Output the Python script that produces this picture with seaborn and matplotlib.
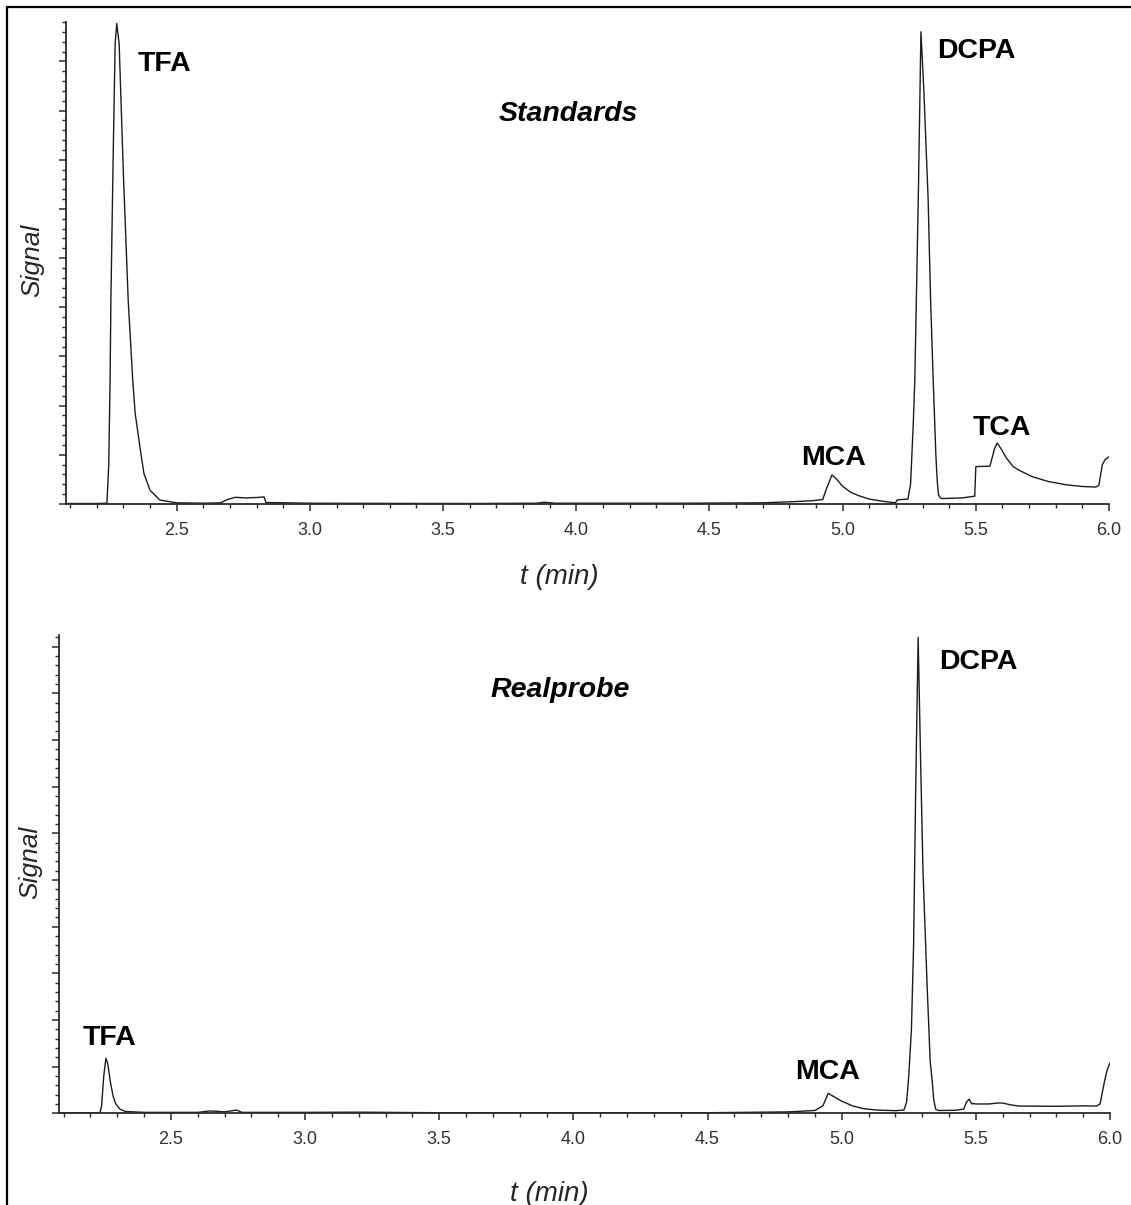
import matplotlib
matplotlib.use("Agg")
import matplotlib.pyplot as plt
from matplotlib.ticker import MultipleLocator, FormatStrFormatter
from matplotlib.lines import Line2D
import seaborn as sns

# Standards chromatogram: retention time (min) and detector signal (arbitrary units)
std_time = [2.085, 2.20, 2.238, 2.245, 2.25, 2.253, 2.262, 2.269, 2.275, 2.284,
            2.30, 2.318, 2.335, 2.344, 2.362, 2.377, 2.40, 2.437, 2.50, 2.60,
            2.665, 2.69, 2.72, 2.76, 2.80, 2.828, 2.835, 3.00, 3.30, 3.60,
            3.85, 3.88, 3.92, 4.40, 4.70, 4.80, 4.88, 4.925, 4.94, 4.96,
            4.975, 5.00, 5.03, 5.06, 5.10, 5.15, 5.198, 5.205, 5.245, 5.255,
            5.265, 5.271, 5.284, 5.294, 5.305, 5.321, 5.33, 5.34, 5.35, 5.355,
            5.36, 5.37, 5.45, 5.496, 5.50, 5.553, 5.57, 5.58, 5.595, 5.614,
            5.64, 5.665, 5.71, 5.77, 5.84, 5.90, 5.95, 5.962, 5.975, 5.985, 6.0]
std_signal = [0.05, 0.05, 0.08, 4.0, 12.6, 20.7, 36.0, 46.8, 48.85, 46.8,
              33.5, 20.7, 12.6, 9.25, 5.8, 3.1, 1.4, 0.4, 0.12, 0.08,
              0.12, 0.45, 0.68, 0.62, 0.66, 0.72, 0.15, 0.08, 0.06, 0.05,
              0.08, 0.18, 0.08, 0.08, 0.12, 0.22, 0.32, 0.45, 1.6, 2.95,
              2.6, 1.8, 1.2, 0.85, 0.5, 0.28, 0.12, 0.42, 0.5, 2.0,
              8.0, 12.6, 31.0, 48.0, 42.0, 31.0, 21.0, 12.6, 5.0, 2.4,
              0.9, 0.55, 0.62, 0.8, 3.8, 3.85, 5.6, 6.2, 5.6, 4.7,
              3.8, 3.4, 2.8, 2.3, 1.95, 1.78, 1.72, 1.9, 4.0, 4.5, 4.8]

# Real sample chromatogram
real_time = [2.084, 2.20, 2.236, 2.242, 2.25, 2.258, 2.265, 2.275, 2.285, 2.295,
             2.31, 2.33, 2.40, 2.60, 2.645, 2.67, 2.70, 2.745, 2.765, 3.00,
             3.20, 3.50, 4.50, 4.80, 4.90, 4.93, 4.95, 4.97, 5.00, 5.04,
             5.08, 5.13, 5.20, 5.232, 5.242, 5.25, 5.26, 5.268, 5.276, 5.285,
             5.294, 5.303, 5.318, 5.33, 5.337, 5.343, 5.35, 5.36, 5.42, 5.455,
             5.465, 5.475, 5.485, 5.49, 5.50, 5.55, 5.58, 5.60, 5.63, 5.66,
             5.80, 5.90, 5.95, 5.963, 5.98, 5.99, 6.0]
real_signal = [0.05, 0.05, 0.08, 0.8, 4.0, 5.9, 5.3, 3.3, 1.8, 1.0,
               0.45, 0.2, 0.1, 0.1, 0.25, 0.22, 0.15, 0.35, 0.1, 0.1,
               0.12, 0.06, 0.06, 0.15, 0.3, 0.8, 2.14, 1.8, 1.3, 0.8,
               0.5, 0.35, 0.28, 0.35, 1.2, 4.0, 9.0, 18.0, 35.0, 51.0,
               38.0, 26.0, 14.0, 5.5, 3.6, 1.5, 0.45, 0.3, 0.32, 0.45,
               1.2, 1.5, 1.0, 1.05, 1.0, 1.0, 1.1, 1.1, 0.9, 0.78,
               0.75, 0.8, 0.78, 1.0, 3.5, 4.7, 5.4]

# Peak annotations: name, time (left edge of label), signal (baseline of label)
std_labels = ["TFA", "DCPA", "MCA", "TCA"]
std_label_t = [2.355, 5.354, 4.846, 5.488]
std_label_y = [44.0, 45.3, 3.96, 7.01]
real_labels = ["DCPA", "TFA", "MCA"]
real_label_t = [5.362, 2.171, 4.826]
real_label_y = [47.6, 7.32, 3.68]

sns.set_style("ticks")
plt.rcParams["font.family"] = ["Liberation Sans", "DejaVu Sans"]

W, H = 1131, 1205
fig = plt.figure(figsize=(W / 100, H / 100), dpi=100)

def px_axes(left, right, bottom, top):
    return fig.add_axes([left / W, 1 - bottom / H, (right - left) / W, (bottom - top) / H])

ax_top = px_axes(66, 1109, 504, 22)
ax_bot = px_axes(59.3, 1110, 1113.3, 635)

line_color = "#1c1c1c"
axis_color = "#2a2a2a"

panels = [
    (ax_top, std_time, std_signal, (2.0845, 6.0), (0, 49.0),
     std_labels, std_label_t, std_label_y, "Standards", 3.971, 38.9),
    (ax_bot, real_time, real_signal, (2.0843, 6.0), (0, 51.25),
     real_labels, real_label_t, real_label_y, "Realprobe", 3.951, 44.6),
]

for ax, t, s, xl, yl, labs, lt, ly, title, tt, ty in panels:
    sns.lineplot(x=t, y=s, ax=ax, color=line_color, linewidth=1.0,
                 sort=False, estimator=None)
    ax.set_xlim(*xl)
    ax.set_ylim(*yl)
    ax.set_facecolor("white")
    for side in ("top", "right"):
        ax.spines[side].set_visible(False)
    for side in ("left", "bottom"):
        ax.spines[side].set_color(axis_color)
        ax.spines[side].set_linewidth(1.3)
    ax.xaxis.set_major_locator(MultipleLocator(0.5))
    ax.xaxis.set_minor_locator(MultipleLocator(0.1))
    ax.xaxis.set_major_formatter(FormatStrFormatter("%.1f"))
    ax.yaxis.set_major_locator(MultipleLocator(5))
    ax.yaxis.set_minor_locator(MultipleLocator(1))
    ax.set_yticklabels([])
    ax.tick_params(axis="both", which="major", direction="out", length=5,
                   width=1.1, color=axis_color)
    ax.tick_params(axis="both", which="minor", direction="out", length=2.8,
                   width=1.0, color=axis_color)
    ax.tick_params(axis="x", which="major", labelsize=13, labelcolor="#333333", pad=8)
    ax.set_xlabel("")
    ax.set_ylabel("")
    for name, x0, y0 in zip(labs, lt, ly):
        ax.text(x0, y0, name, fontsize=20.5, fontweight="bold", color="black",
                ha="left", va="baseline")
    ax.text(tt, ty, title, fontsize=20.5, fontweight="bold", fontstyle="italic",
            color="black", ha="center", va="baseline")

# Axis titles
fig.text(32 / W, 1 - 260 / H, "Signal", rotation=90, fontsize=19,
         fontstyle="italic", ha="center", va="center")
fig.text(30 / W, 1 - 862 / H, "Signal", rotation=90, fontsize=19,
         fontstyle="italic", ha="center", va="center")
fig.text(559 / W, 1 - 584 / H, "t (min)", fontsize=20, fontstyle="italic",
         ha="center", va="baseline")
fig.text(549 / W, 1 - 1201 / H, "t (min)", fontsize=20, fontstyle="italic",
         ha="center", va="baseline")

# Outer frame
fig.add_artist(Line2D([7 / W, 1.0], [1 - 7 / H, 1 - 7 / H], color="black",
                      linewidth=1.6, transform=fig.transFigure))
fig.add_artist(Line2D([7 / W, 7 / W], [0.0, 1 - 7 / H], color="black",
                      linewidth=1.6, transform=fig.transFigure))

fig.savefig("out.png", dpi=100, facecolor="white")
